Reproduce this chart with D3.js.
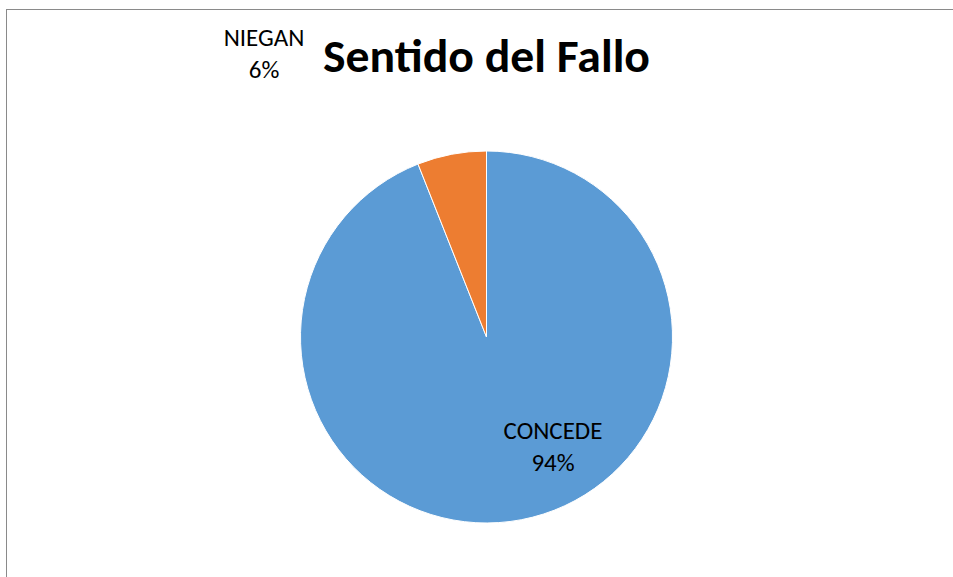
<!DOCTYPE html>
<html>
<head>
<meta charset="utf-8">
<script src="https://cdn.jsdelivr.net/npm/d3@7"></script>
<style>
  html, body { margin: 0; padding: 0; background: #fff; }
  svg { display: block; }
</style>
</head>
<body>
<svg id="chart" width="953" height="577"></svg>
<script>
const title = "Sentido del Fallo";
const categories = ["CONCEDE", "NIEGAN"];
const values = [94, 6];
const percentLabels = ["94%", "6%"];
const colors = ["#5B9BD5", "#ED7D31"];

const svg = d3.select("#chart");
const W = 953, H = 577;
const cx = 486.5, cy = 337, R = 186;
const font = "Carlito, Calibri, 'Liberation Sans', Arial, sans-serif";

// chart border (extends beyond the visible area at right/bottom)
svg.append("rect")
  .attr("x", 6.5).attr("y", 9.5)
  .attr("width", W + 20).attr("height", H + 20)
  .attr("fill", "none")
  .attr("stroke", "#8a8a8a")
  .attr("stroke-width", 1);

// title
svg.append("text")
  .attr("x", cx).attr("y", 72)
  .attr("text-anchor", "middle")
  .attr("font-family", font)
  .attr("font-weight", "bold")
  .attr("font-size", 46)
  .attr("textLength", 327)
  .attr("lengthAdjust", "spacingAndGlyphs")
  .attr("fill", "#000")
  .text(title);

const data = categories.map((c, i) => ({ cat: c, value: values[i], pct: percentLabels[i], color: colors[i] }));

const pie = d3.pie().sort(null).value(d => d.value).startAngle(0).endAngle(2 * Math.PI);
const arc = d3.arc().innerRadius(0).outerRadius(R);

const g = svg.append("g").attr("transform", `translate(${cx},${cy})`);
g.selectAll("path")
  .data(pie(data))
  .join("path")
  .attr("d", arc)
  .attr("fill", d => d.data.color)
  .attr("stroke", "#fff")
  .attr("stroke-width", 1);

// data labels (Excel "best fit" placement)
const labelPos = {
  "CONCEDE": [66.5, 102],
  "NIEGAN": [-222.5, -291]
};

data.forEach(d => {
  const [dx, dy] = labelPos[d.cat];
  const t = g.append("text")
    .attr("text-anchor", "middle")
    .attr("font-family", font)
    .attr("font-size", 25)
    .attr("fill", "#000");
  t.append("tspan")
    .attr("x", dx).attr("y", dy)
    .text(d.cat);
  t.append("tspan")
    .attr("x", dx).attr("y", dy + 32)
    .text(d.pct);
});
</script>
</body>
</html>
